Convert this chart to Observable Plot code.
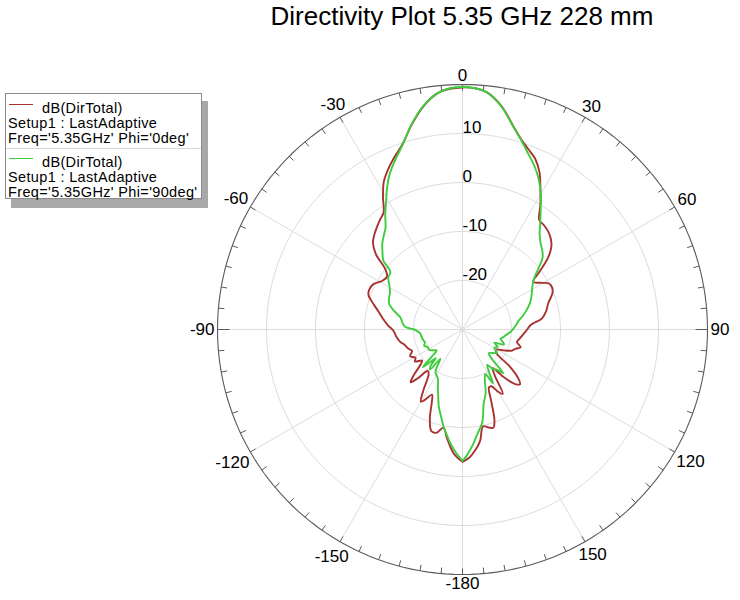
<!DOCTYPE html>
<html>
<head>
<meta charset="utf-8">
<script src="https://cdn.jsdelivr.net/npm/d3@7"></script>
<script src="https://cdn.jsdelivr.net/npm/@observablehq/plot@0.6"></script>
<style>
  html, body { margin: 0; padding: 0; background: #fff; }
  body { width: 740px; height: 600px; position: relative; overflow: hidden; font-family: "Liberation Sans", Arial, sans-serif; }
  #title { position: absolute; left: 184px; top: 0; width: 556px; text-align: center; font-size: 26px; line-height: 32px; color: #000; z-index: 2; }
  #chart { position: absolute; left: 0; top: 40px; z-index: 1; }
  #legend-shadow { position: absolute; left: 11px; top: 101px; width: 197px; height: 107px; background: #a8a8a8; z-index: 3; }
  #legend { position: absolute; left: 5px; top: 93px; width: 195px; height: 104px; background: #fff; border: 1px solid #8c8c8c; font-size: 14.5px; letter-spacing: 0.35px; color: #000; z-index: 4; }
  .lrow { position: absolute; white-space: nowrap; line-height: 14px; }
  .lsample { position: absolute; left: 3px; width: 24px; height: 0; border-top: 1.5px solid; }
  #lsep { position: absolute; left: 0; width: 195px; top: 54px; border-top: 1px solid #d8d8d8; }
</style>
</head>
<body>
<div id="title">Directivity Plot 5.35 GHz 228 mm</div>
<div id="chart"></div>
<div id="legend-shadow"></div>
<div id="legend"></div>
<script>
// ---------- data (theta in degrees, directivity in dB) ----------
const seriesNames = ["dB(DirTotal)", "dB(DirTotal)"];
const setupLabels = ["Setup1 : LastAdaptive", "Setup1 : LastAdaptive"];
const freqLabels = ["Freq='5.35GHz' Phi='0deg'", "Freq='5.35GHz' Phi='90deg'"];
const seriesColors = ["#a83232", "#3fcc3f"];

const thetaPhi0 = [-180,-176,-172,-169,-166,-163,-160,-157,-155,-152,-150,-147,-143,-140,-137.5,-135.5,-133,-130,-127.5,-124,-121,-117,-113,-109,-105,-101,-96,-91,-87,-83,-78,-74,-70,-67,-63,-59,-55,-52,-49,-46,-43,-40,-37,-34,-31,-28,-25,-22,-18,-14,-10,-6,-3,0,3,6,10,14,17,20,23,26,29,32,35,38,41,44,47,50,53,56,59,62,65,68,73,78,82,86,90,94,99,103,107,110,113,117,121,125,128,131,133.5,136,139,142,145,148,150.5,153,155.5,158,160.5,162.5,165,168,171,174,177,180];
const dbPhi0 = [-3.0,-4.6,-7.5,-9.6,-8.3,-8.3,-10.5,-14.0,-15.3,-13.8,-13.0,-15.5,-18.5,-19.0,-16.5,-14.9,-16.5,-18.8,-19.6,-18.3,-18.8,-18.0,-18.8,-18.2,-17.8,-17.0,-16.4,-15.9,-14.8,-13.8,-12.5,-11.1,-9.6,-9.3,-9.6,-10.8,-11.2,-10.0,-6.6,-4.6,-3.6,-2.8,-2.0,-1.2,1.5,4.2,6.0,7.6,9.7,13.0,16.2,18.5,19.2,19.4,19.3,18.6,16.2,12.8,10.7,9.2,7.9,5.8,2.8,0.0,-2.7,-3.0,-3.4,-4.1,-5.2,-7.2,-10.2,-12.6,-11.5,-10.0,-9.8,-10.2,-11.7,-12.6,-13.6,-16.0,-16.8,-17.5,-18.2,-18.6,-17.6,-18.5,-19.0,-20.6,-22.0,-21.5,-17.8,-15.0,-13.8,-14.5,-17.0,-20.0,-18.5,-14.5,-15.5,-17.0,-17.0,-14.5,-10.5,-9.0,-9.3,-9.8,-7.0,-5.2,-3.8,-3.0];

const thetaPhi90 = [-180,-177,-174,-171,-169,-166,-163,-160,-157,-154,-151,-148,-146,-143,-141,-139,-137,-135,-133.5,-131.5,-129,-125,-121,-117,-113,-109,-105,-100,-95,-91,-87,-83,-79,-75,-71,-67,-63,-59,-55,-51.5,-50,-49,-46,-43,-40,-37,-34,-31,-28,-25,-22,-18,-14,-10,-6,-3,0,3,6,10,14,17,20,24,27,30,33,36,39,42,45,48,51,54,57,61,65,69,73,77,81,85,89,93,97,101,104,107,110,112.5,116,120,124,128,132,135,137,139.5,142.5,145,148,150.5,153,156,160,164,168,172,175,178,180];
const dbPhi90 = [-3.2,-4.8,-6.6,-8.6,-9.8,-11.8,-13.5,-15.5,-17.1,-18.6,-19.2,-19.6,-20.5,-22.5,-19.5,-20.0,-22.0,-20.5,-18.8,-21.5,-23.2,-22.6,-22.0,-22.1,-21.5,-21.9,-21.7,-21.5,-21.3,-20.5,-18.2,-17.6,-17.1,-15.6,-14.2,-13.7,-13.4,-12.6,-11.5,-11.2,-10.0,-8.6,-7.3,-6.0,-5.0,-3.9,-1.8,0.3,2.8,5.1,7.0,9.6,13.1,16.3,18.5,19.3,19.5,19.3,18.6,16.1,12.7,10.6,8.6,6.3,4.3,2.0,-0.7,-3.0,-5.0,-6.2,-7.0,-8.0,-10.0,-11.8,-12.9,-13.8,-14.5,-15.3,-16.3,-17.3,-18.4,-19.0,-19.6,-20.2,-21.0,-21.6,-22.0,-21.4,-21.0,-23.0,-22.0,-22.5,-21.5,-22.2,-22.8,-21.5,-17.8,-19.2,-19.8,-21.2,-19.8,-17.4,-19.8,-18.8,-16.2,-14.3,-10.6,-8.4,-6.3,-4.3,-3.2];

const radialTicks = [-20, -10, 0, 10];
const radialMin = -30, radialMax = 20;
const angleTicks = [0, 30, 60, 90, 120, 150, -180, -150, -120, -90, -60, -30];

// ---------- geometry helpers ----------
const CX = 462, CY = 289, RPX = 245;          // center & outer radius (px, inside svg)
const RU = radialMax - radialMin;               // outer radius in data units
const PXU = RPX / RU;                           // px per dB
const rad = d => d * Math.PI / 180;
const px = (theta, db) => (db - radialMin) * Math.sin(rad(theta));
const py = (theta, db) => (db - radialMin) * Math.cos(rad(theta));

const phi0 = thetaPhi0.map((t, i) => ({theta: t, db: dbPhi0[i]}));
const phi90 = thetaPhi90.map((t, i) => ({theta: t, db: dbPhi90[i]}));

const circleAngles = d3.range(0, 361, 2);
const ringPts = radialTicks.flatMap(v => circleAngles.map(a => ({ring: v, theta: a, db: v})));
const outerPts = circleAngles.map(a => ({theta: a, db: radialMax}));
const spokes = d3.range(-150, 181, 30);
const ticks = d3.range(-175, 181, 5).map(a => ({theta: a, len: (Math.abs(a) === 90 ? 12 : 6) / PXU}));

const fontSize = 17;
const labelWidth = s => [...s].reduce((w, c) => w + (c === "-" ? 0.333 : 0.556), 0) * fontSize;
const angleLabelData = angleTicks.map(a => {
  const w = labelWidth(String(a));
  const ext = Math.abs(Math.sin(rad(a))) * w / 2 + Math.abs(Math.cos(rad(a))) * 6;
  return {theta: a, label: String(a), r: (RPX + 3 + ext) / PXU};
});

const plot = Plot.plot({
  width: 740,
  height: 560,
  margin: 0,
  x: {domain: [-RU, RU], range: [CX - RPX, CX + RPX], axis: null},
  y: {domain: [-RU, RU], range: [CY + RPX, CY - RPX], axis: null},
  style: {fontFamily: "'Liberation Sans', Arial, sans-serif", background: "transparent"},
  marks: [
    Plot.line(ringPts, {x: d => px(d.theta, d.db), y: d => py(d.theta, d.db), z: "ring", stroke: "#dcdcdc", strokeWidth: 1}),
    Plot.link(spokes, {x1: () => 0, y1: () => 0, x2: a => RU * Math.sin(rad(a)), y2: a => RU * Math.cos(rad(a)), stroke: "#dcdcdc", strokeWidth: 1}),
    Plot.line(outerPts, {x: d => px(d.theta, d.db), y: d => py(d.theta, d.db), stroke: "#5a5a5a", strokeWidth: 1.1}),
    Plot.link(ticks, {
      x1: d => RU * Math.sin(rad(d.theta)), y1: d => RU * Math.cos(rad(d.theta)),
      x2: d => (RU - d.len) * Math.sin(rad(d.theta)), y2: d => (RU - d.len) * Math.cos(rad(d.theta)),
      stroke: "#5a5a5a", strokeWidth: 1
    }),
    Plot.text(radialTicks, {x: () => 0, y: v => v - radialMin, text: v => String(v), textAnchor: "start", dy: -6, fontSize, fill: "#000"}),
    Plot.text(angleLabelData, {x: d => d.r * Math.sin(rad(d.theta)), y: d => d.r * Math.cos(rad(d.theta)), text: "label", textAnchor: "middle", fontSize, fill: "#000"}),
    Plot.line(phi0, {x: d => px(d.theta, d.db), y: d => py(d.theta, d.db), stroke: seriesColors[0], strokeWidth: 1.9, curve: "catmull-rom"}),
    Plot.line(phi90, {x: d => px(d.theta, d.db), y: d => py(d.theta, d.db), stroke: seriesColors[1], strokeWidth: 1.9, curve: "catmull-rom"})
  ]
});
document.getElementById("chart").appendChild(plot);

// ---------- legend ----------
const legend = document.getElementById("legend");
const rowTops = [[7, 22, 37], [61, 76, 91]];
const sampleTops = [10, 64];
seriesNames.forEach((name, i) => {
  const s = document.createElement("div");
  s.className = "lsample";
  s.style.top = sampleTops[i] + "px";
  s.style.borderTopColor = seriesColors[i];
  legend.appendChild(s);
  [[name, 36], [setupLabels[i], 2], [freqLabels[i], 2]].forEach(([txt, left], j) => {
    const r = document.createElement("div");
    r.className = "lrow";
    r.textContent = txt;
    r.style.left = left + "px";
    r.style.top = rowTops[i][j] + "px";
    legend.appendChild(r);
  });
});
const sep = document.createElement("div");
sep.id = "lsep";
legend.appendChild(sep);
</script>
</body>
</html>
